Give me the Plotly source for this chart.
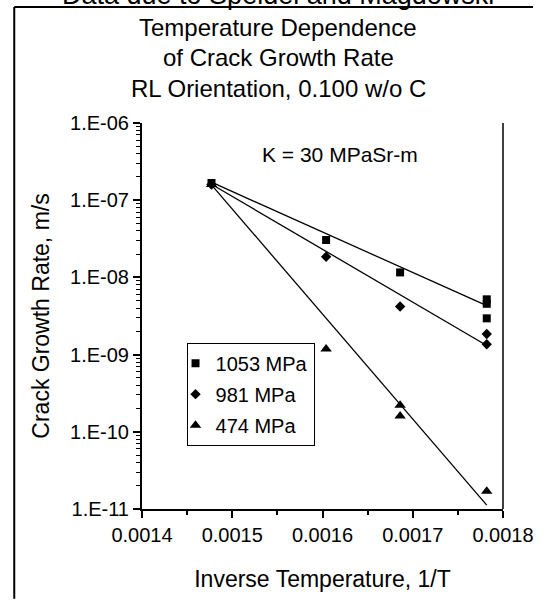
import plotly.graph_objects as go

# Inverse temperature (1/K) and crack growth rate (m/s) for each stress level
x_1053 = [0.001477, 0.001604, 0.001686, 0.001782, 0.001782, 0.001782]
y_1053 = [1.67e-7, 3.05e-8, 1.16e-8, 5.2e-9, 4.55e-9, 2.95e-9]

x_981 = [0.001477, 0.001604, 0.001686, 0.001782, 0.001782]
y_981 = [1.60e-7, 1.85e-8, 4.2e-9, 1.85e-9, 1.36e-9]

x_474 = [0.001477, 0.001604, 0.001686, 0.001686, 0.001782]
y_474 = [1.60e-7, 1.18e-9, 2.2e-10, 1.6e-10, 1.7e-11]

# Exponential trend lines (end points)
trend_x = [0.001477, 0.001782]
trend_1053 = [1.71e-7, 4.3e-9]
trend_981 = [1.61e-7, 1.31e-9]
trend_474 = [1.58e-7, 1.12e-11]

series_names = ["1053 MPa", "981 MPa", "474 MPa"]

x_ticks = [0.0014, 0.0015, 0.0016, 0.0017, 0.0018]
x_ticktext = ["0.0014", "0.0015", "0.0016", "0.0017", "0.0018"]
y_ticks = [1e-11, 1e-10, 1e-9, 1e-8, 1e-7, 1e-6]
y_ticktext = ["1.E-11", "1.E-10", "1.E-09", "1.E-08", "1.E-07", "1.E-06"]

FONT = "Arial, Liberation Sans, sans-serif"

fig = go.Figure()

for tx, ty in [(trend_x, trend_1053), (trend_x, trend_981), (trend_x, trend_474)]:
    fig.add_trace(go.Scatter(x=tx, y=ty, mode="lines", showlegend=False,
                             line=dict(color="black", width=1.3), hoverinfo="skip"))

fig.add_trace(go.Scatter(x=x_1053, y=y_1053, mode="markers", name=series_names[0],
                         legendgroup="a",
                         marker=dict(symbol="square", size=8, color="black")))
fig.add_trace(go.Scatter(x=x_981, y=y_981, mode="markers", name=series_names[1],
                         legendgroup="b",
                         marker=dict(symbol="diamond", size=8, color="black")))
fig.add_trace(go.Scatter(x=x_474, y=y_474, mode="markers", name=series_names[2],
                         legendgroup="c",
                         marker=dict(symbol="triangle-up", size=10, color="black")))

minor_y = [k * 10.0 ** e for e in range(-11, -6) for k in range(2, 10)]

L, R, T, B = 142, 31, 122.5, 90
W, H = 546, 600
pw, ph = W - L - R, H - T - B


def px(x):
    return (x - L) / pw


def py(y):
    return (H - B - y) / ph


fig.update_layout(
    width=W, height=H,
    margin=dict(l=L, r=R, t=T, b=B, pad=0),
    paper_bgcolor="white", plot_bgcolor="white",
    font=dict(family=FONT, color="black", size=20),
    showlegend=True,
    legend=dict(x=px(188), y=py(343), xanchor="left", yanchor="top",
                bgcolor="white", bordercolor="black", borderwidth=1,
                font=dict(size=20, family=FONT), traceorder="grouped",
                tracegroupgap=2, itemwidth=30, indentation=-12),
    xaxis=dict(range=[0.0014, 0.0018], tickmode="array", tickvals=x_ticks,
               ticktext=x_ticktext, showgrid=False, zeroline=False,
               showline=True, linecolor="black", linewidth=2,
               ticks="outside", ticklen=7, tickwidth=1.5, tickcolor="black",
               minor=dict(ticks="outside", ticklen=4, tickwidth=1.5,
                          tickcolor="black", dtick=0.00005, showgrid=False),
               tickfont=dict(size=20, family=FONT),
               title=dict(text="Inverse Temperature, 1/T",
                          font=dict(size=23, family=FONT), standoff=26)),
    yaxis=dict(type="log", range=[-11, -6], tickmode="array", tickvals=y_ticks,
               ticktext=y_ticktext, showgrid=False, zeroline=False,
               showline=True, linecolor="black", linewidth=2,
               ticks="outside", ticklen=7, tickwidth=1.5, tickcolor="black",
               minor=dict(ticks="outside", ticklen=4, tickwidth=1,
                          tickcolor="black", tickmode="array", tickvals=minor_y,
                          showgrid=False),
               tickfont=dict(size=20, family=FONT),
               title=dict(text="Crack Growth Rate, m/s",
                          font=dict(size=23, family=FONT), standoff=14)),
)

# Right edge of the plot area
fig.add_shape(type="line", xref="paper", yref="paper", x0=1, x1=1, y0=0, y1=1,
              line=dict(color="black", width=1.5))
# Outer chart frame (left and top edges)
fig.add_shape(type="line", xref="paper", yref="paper", x0=px(10), x1=px(10),
              y0=py(6), y1=py(600), line=dict(color="black", width=2))
fig.add_shape(type="line", xref="paper", yref="paper", x0=px(10), x1=px(546),
              y0=py(6), y1=py(6), line=dict(color="black", width=2))

titles = [
    ("Data due to Speidel and Magdowski", -6, 27),
    ("Temperature Dependence", 27, 24),
    ("of Crack Growth Rate", 57, 24),
    ("RL Orientation, 0.100 w/o C", 88, 24),
]
for text, yc, size in titles:
    fig.add_annotation(text=text, xref="paper", yref="paper", x=px(283), y=py(yc),
                       xanchor="center", yanchor="middle", showarrow=False,
                       font=dict(size=size, family=FONT, color="black"))

fig.add_annotation(text="K = 30 MPaSr-m", xref="paper", yref="paper",
                   x=px(347), y=py(154), xanchor="center", yanchor="middle",
                   showarrow=False, font=dict(size=21, family=FONT, color="black"))

fig.write_html("out.html")
